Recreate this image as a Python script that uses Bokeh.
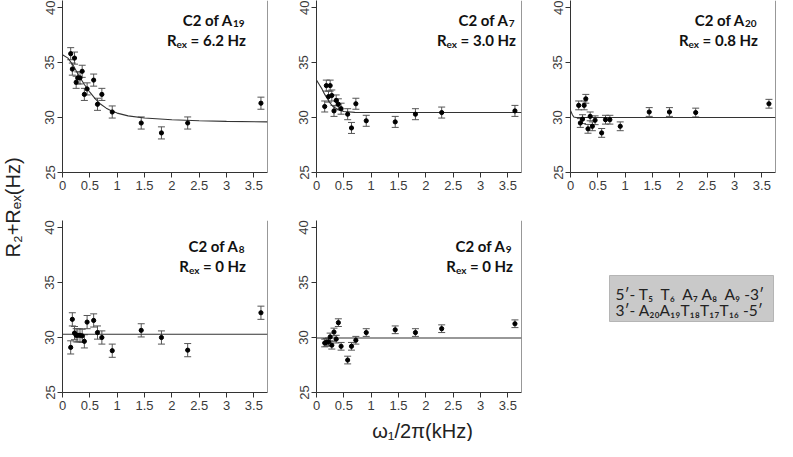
import math
from bokeh.plotting import figure
from bokeh.models import Range1d, FixedTicker, Span, Whisker, TeeHead, ColumnDataSource
from bokeh.layouts import row, column
from bokeh.embed import file_html
from bokeh.resources import INLINE
from bokeh.core.properties import value

# ---------------- data ----------------
X_KHZ = [0.15, 0.18, 0.22, 0.25, 0.28, 0.32, 0.36, 0.40, 0.45, 0.57, 0.64, 0.72, 0.91, 1.44, 1.81, 2.29, 3.63]

Y_A19 = [35.8, 34.4, 35.4, 33.2, 33.6, 33.6, 34.2, 32.1, 32.6, 33.4, 31.2, 32.1, 30.5, 29.5, 28.6, 29.5, 31.3]
Y_A7 = [31.0, 32.9, 31.9, 32.9, 32.0, 30.6, 31.55, 31.2, 30.8, 30.3, 29.05, 31.25, 29.7, 29.6, 30.3, 30.45, 30.6]
Y_A20 = [31.1, 29.5, 29.85, 31.1, 31.7, 28.97, 30.1, 29.2, 29.75, 28.6, 29.8, 29.8, 29.2, 30.5, 30.5, 30.45, 31.25]
Y_A8 = [29.1, 31.65, 30.4, 30.2, 30.2, 30.2, 30.15, 29.65, 31.4, 31.55, 30.45, 30.0, 28.8, 30.65, 30.0, 28.85, 32.25]
Y_A9 = [29.5, 29.55, 29.6, 30.05, 29.3, 30.5, 29.85, 31.35, 29.2, 27.95, 29.2, 29.75, 30.45, 30.7, 30.45, 30.8, 31.25]

ERR_A19 = [0.55] * 17
ERR_A7 = [0.5] * 17
ERR_A20 = [0.4] * 17
ERR_A8 = [0.6] * 17
ERR_A9 = [0.35] * 17

FIT_X_A19 = [0, 0.1, 0.2, 0.3, 0.4, 0.5, 0.6, 0.7, 0.8, 0.9, 1.0, 1.2, 1.5, 2.0, 2.5, 3.0, 3.75]
FIT_Y_A19 = [35.7, 35.4, 34.7, 33.8, 33.0, 32.3, 31.7, 31.2, 30.85, 30.6, 30.4, 30.15, 29.95, 29.8, 29.7, 29.65, 29.6]
FIT_X_A7 = [0, 0.05, 0.1, 0.15, 0.2, 0.25, 0.3, 0.4, 0.5, 0.7, 1.0, 3.75]
FIT_Y_A7 = [33.4, 33.0, 32.6, 32.1, 31.7, 31.3, 31.0, 30.7, 30.55, 30.47, 30.45, 30.45]
FIT_X_A20 = [0, 0.03, 0.06, 0.1, 3.75]
FIT_Y_A20 = [30.65, 30.3, 30.05, 30.0, 30.0]
FIT_X_A8 = [0, 3.75]
FIT_Y_A8 = [30.3, 30.3]
FIT_X_A9 = [0, 3.75]
FIT_Y_A9 = [29.95, 29.95]

NUCLEI = ["19", "7", "20", "8", "9"]
REX_HZ = ["6.2", "3.0", "0.8", "0", "0"]

XTICKS = [0, 0.5, 1, 1.5, 2, 2.5, 3, 3.5]
XTICK_LABELS = ["0", "0.5", "1", "1.5", "2", "2.5", "3", "3.5"]
YTICKS = [25, 30, 35, 40]

Y_LABEL = "R\u2082+R\u2091\u2093(Hz)"
X_LABEL = "\u03c9\u2081/2\u03c0(kHz)"
SEQ_LINES = ["5\u2032-\u00a0T\u2085\u00a0\u00a0T\u2086\u00a0\u00a0A\u2087\u00a0A\u2088\u00a0\u00a0A\u2089\u00a0-3\u2032",
             "3\u2032-\u00a0A\u2082\u2080A\u2081\u2089T\u2081\u2088T\u2081\u2087T\u2081\u2086\u00a0-5\u2032"]

# ---------------- layout / style ----------------
XMAX = 3.75
YMIN, YMAX = 25.0, 40.636
FRAME_W, FRAME_H = 205, 172
PXU_X = FRAME_W / XMAX
PXU_Y = FRAME_H / (YMAX - YMIN)
AX_COLOR = "#333333"
TICK_FONT = "Liberation Sans"
TITLE_FONT = "Lato"
ROW2_BOTTOM = 24
XLAB_H = 25

CHAR_W = {"=": 8.7, ".": 3.6, "H": 11.3, "z": 6.9, " ": 3.0}


def w_text(s):
    return sum(CHAR_W.get(c, 8.7) for c in s)


def make_panel(ys, errs, fx, fy, nuc, rex, col, rowi, title_right_px, base1_px, base2_px):
    left, right = 33, (16 if col < 2 else 2)
    top, bottom = (0, 28) if rowi == 0 else (20, ROW2_BOTTOM)
    p = figure(width=left + FRAME_W + right, height=top + FRAME_H + bottom,
               min_border_left=left, min_border_right=right,
               min_border_top=top, min_border_bottom=bottom,
               x_range=Range1d(0, XMAX), y_range=Range1d(YMIN, YMAX),
               output_backend="svg", toolbar_location=None)
    p.grid.visible = False
    p.outline_line_color = None
    p.background_fill_color = "white"
    for ax in (p.xaxis[0], p.yaxis[0]):
        ax.axis_line_color = AX_COLOR
        ax.major_tick_line_color = AX_COLOR
        ax.major_tick_in = 0
        ax.major_tick_out = 5
        ax.minor_tick_line_color = None
        ax.major_label_text_font = TICK_FONT
        ax.major_label_text_font_size = "13px"
        ax.major_label_text_color = "#3a3a3a"
    p.xaxis.ticker = FixedTicker(ticks=XTICKS)
    p.xaxis.major_label_overrides = {t: l for t, l in zip(XTICKS, XTICK_LABELS)}
    p.xaxis.major_label_standoff = 3
    p.yaxis.ticker = FixedTicker(ticks=YTICKS)
    p.yaxis.major_label_orientation = "vertical"
    p.yaxis.major_label_standoff = 3
    p.add_layout(Span(location=XMAX, dimension="height", line_color=AX_COLOR, line_width=1))

    # fitted curve
    p.line(fx, fy, line_color="#333333", line_width=1.1)
    # error bars
    src = ColumnDataSource(dict(x=X_KHZ, y=ys,
                                upper=[y + e for y, e in zip(ys, errs)],
                                lower=[y - e for y, e in zip(ys, errs)]))
    p.add_layout(Whisker(source=src, base="x", upper="upper", lower="lower",
                         line_color="#555555", line_width=1,
                         upper_head=TeeHead(size=7, line_color="#555555", line_width=1),
                         lower_head=TeeHead(size=7, line_color="#555555", line_width=1)))
    p.scatter("x", "y", source=src, size=4.2, color="black")

    # titles
    xr = title_right_px / PXU_X
    y1 = YMAX - base1_px / PXU_Y
    y2 = YMAX - base2_px / PXU_Y
    dsub = 4.0 / PXU_Y
    w_sub = 5.8 * len(nuc)
    anchor1 = xr - w_sub / PXU_X
    common = dict(text_font=value(TITLE_FONT), text_font_style="bold", text_color="#111111",
                  text_baseline="alphabetic")
    p.text(x=[anchor1], y=[y1], text=["C2 of A"], text_align="right", text_font_size="15px", **common)
    p.text(x=[anchor1], y=[y1 - dsub], text=[nuc], text_align="left", text_font_size="10px", **common)
    rest = "= " + rex + " Hz"
    w_ex = 11.0
    xR = xr - (w_ex + 3.0 + w_text(rest)) / PXU_X
    p.text(x=[xR], y=[y2], text=["R"], text_align="right", text_font_size="15px", **common)
    p.text(x=[xR], y=[y2 - dsub], text=["ex"], text_align="left", text_font_size="10px", **common)
    p.text(x=[xR + (w_ex + 3.0) / PXU_X], y=[y2], text=[rest], text_align="left",
           text_font_size="15px", **common)
    return p


Y_ALL = [Y_A19, Y_A7, Y_A20, Y_A8, Y_A9]
ERR_ALL = [ERR_A19, ERR_A7, ERR_A20, ERR_A8, ERR_A9]
FX_ALL = [FIT_X_A19, FIT_X_A7, FIT_X_A20, FIT_X_A8, FIT_X_A9]
FY_ALL = [FIT_Y_A19, FIT_Y_A7, FIT_Y_A20, FIT_Y_A8, FIT_Y_A9]
POS = [(0, 0), (1, 0), (2, 0), (0, 1), (1, 1)]
TITLE_RIGHT = [182, 198, 186, 182, 195]
BASES = [(19, 39), (19, 39), (19, 39), (25, 45), (25, 45)]

panels = []
for i in range(5):
    c, r = POS[i]
    panels.append(make_panel(Y_ALL[i], ERR_ALL[i], FX_ALL[i], FY_ALL[i], NUCLEI[i], REX_HZ[i],
                             c, r, TITLE_RIGHT[i], BASES[i][0], BASES[i][1]))

# sixth cell: sequence box
f6 = figure(width=33 + FRAME_W + 2, height=20 + FRAME_H + ROW2_BOTTOM,
            min_border_left=33, min_border_right=2, min_border_top=20, min_border_bottom=ROW2_BOTTOM,
            x_range=Range1d(0, FRAME_W), y_range=Range1d(FRAME_H, 0),
            x_axis_type=None, y_axis_type=None,
            output_backend="svg", toolbar_location=None)
f6.grid.visible = False
f6.outline_line_color = None
f6.quad(left=[39], right=[203], top=[55], bottom=[101], fill_color="#c9c9c9",
        line_color="#b5b5b5", line_width=1)
f6.text(x=[45, 45], y=[73, 89], text=SEQ_LINES, text_font=value("Lato"), text_font_size="15.5px",
        text_color="#222222", text_baseline="alphabetic", text_align="left")

GRID_H = 200 + 20 + FRAME_H + ROW2_BOTTOM

# y label figure
ylab = figure(width=29, height=GRID_H, min_border=0,
              x_range=Range1d(0, 29), y_range=Range1d(GRID_H, 0),
              x_axis_type=None, y_axis_type=None,
              output_backend="svg", toolbar_location=None)
ylab.grid.visible = False
ylab.outline_line_color = None
ylab.text(x=[12], y=[207], text=[Y_LABEL], angle=math.pi / 2, text_align="center",
          text_baseline="middle", text_font=value("Liberation Sans"), text_font_size="20px",
          text_color="#222222")

# x label figure
xlab = figure(width=777, height=XLAB_H, min_border=0,
              x_range=Range1d(0, 777), y_range=Range1d(XLAB_H, 0),
              x_axis_type=None, y_axis_type=None,
              output_backend="svg", toolbar_location=None)
xlab.grid.visible = False
xlab.outline_line_color = None
xlab.text(x=[422], y=[14], text=[X_LABEL], text_align="center", text_baseline="middle",
          text_font=value("Liberation Sans"), text_font_size="20px", text_color="#222222")

grid = column(row(panels[0], panels[1], panels[2]), row(panels[3], panels[4], f6))
layout = column(row(ylab, grid), xlab)

open("out.html", "w").write(file_html(layout, INLINE))
